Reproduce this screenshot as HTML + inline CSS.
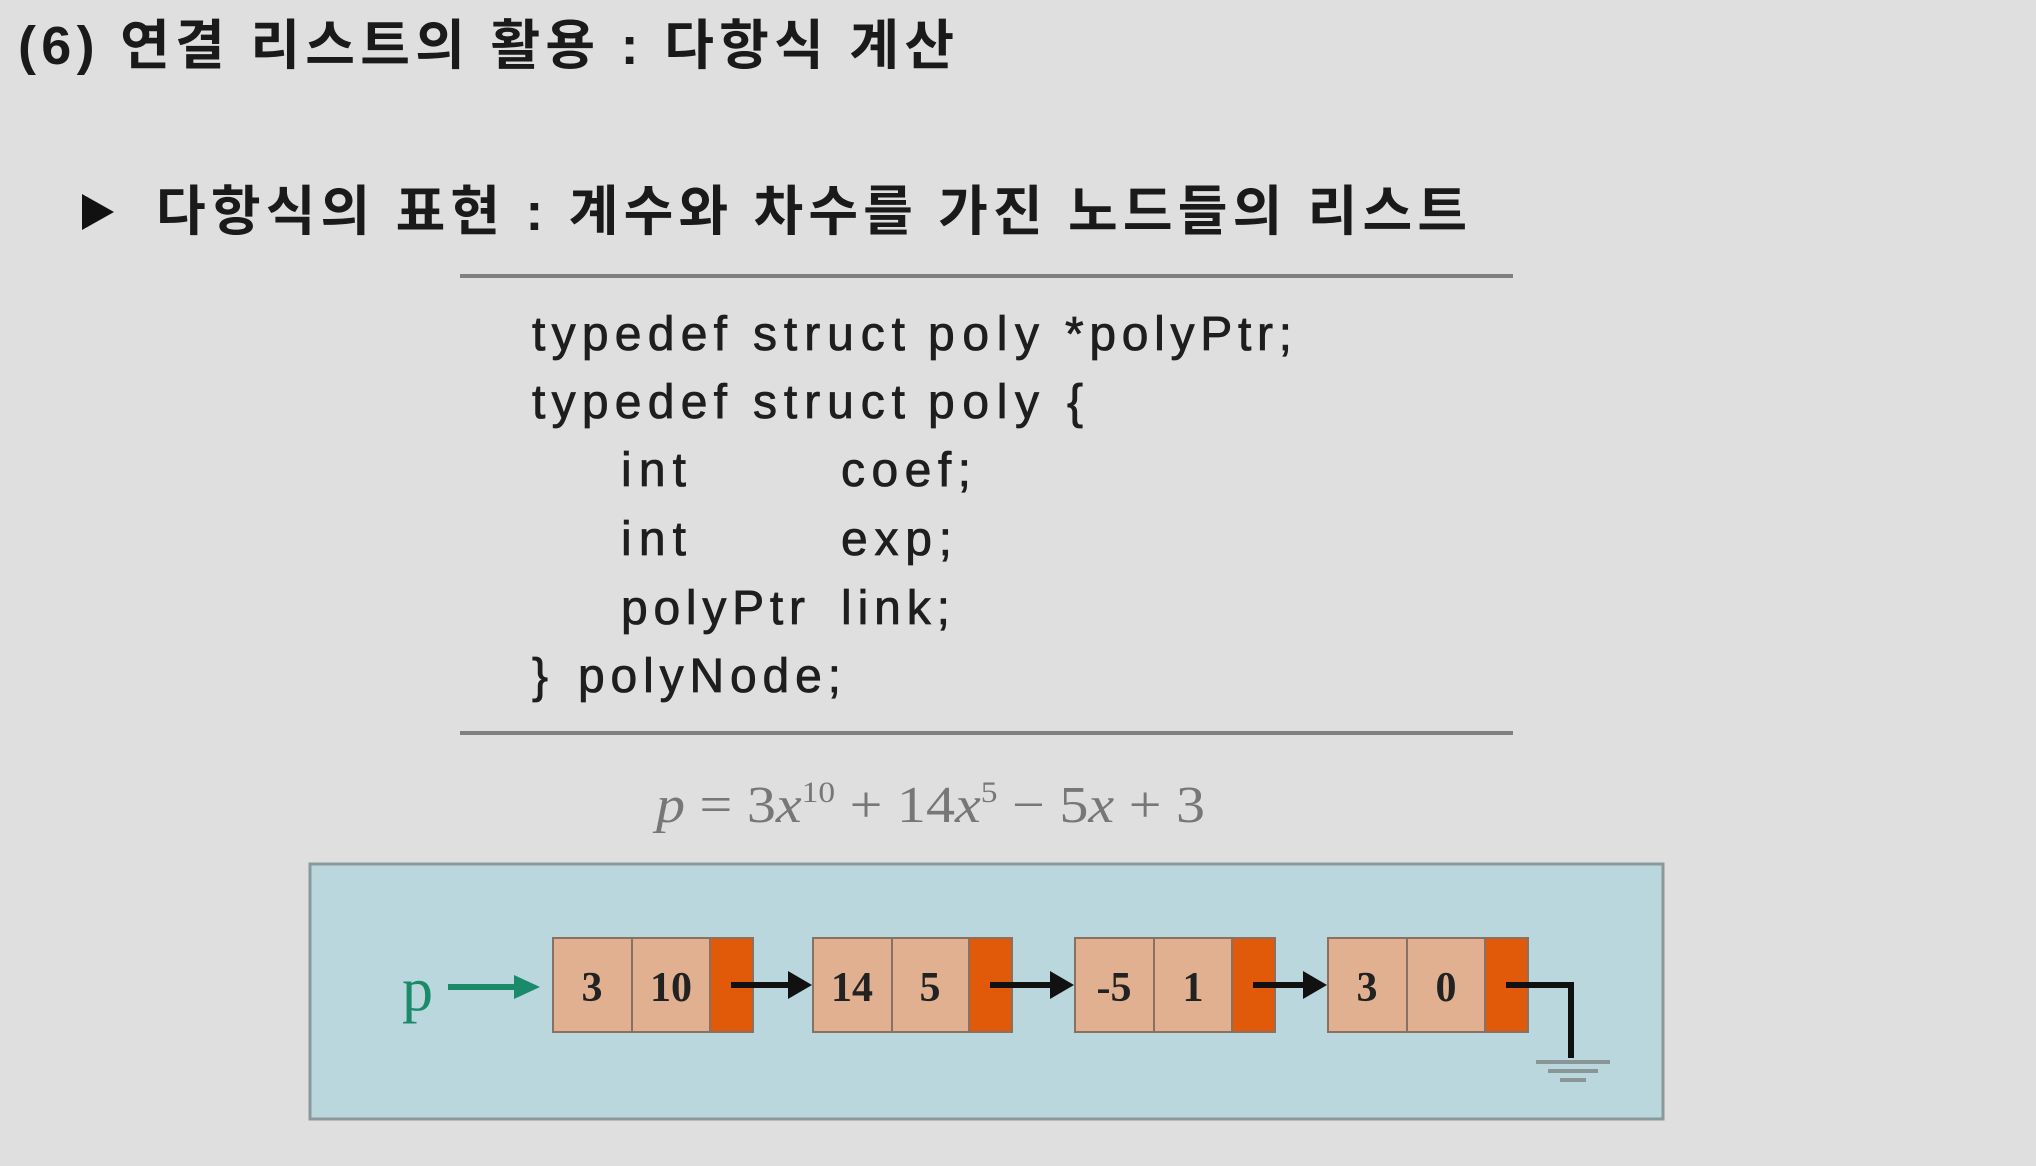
<!DOCTYPE html>
<html><head><meta charset="utf-8"><style>
html,body{margin:0;padding:0;background:#dfdfdf;}
body{width:2036px;height:1166px;overflow:hidden;position:relative;}
svg{position:absolute;left:0;top:0;}
</style></head><body>
<svg width="2036" height="1166" viewBox="0 0 2036 1166">
<rect width="2036" height="1166" fill="#dfdfdf"/>
<g font-family="Liberation Sans, Noto Sans CJK KR, sans-serif" font-weight="bold" fill="#1a1a1a" lengthAdjust="spacingAndGlyphs">
<text x="18" y="64" font-size="54" textLength="936">(6) 연결 리스트의 활용 : 다항식 계산</text>
<text x="156" y="230" font-size="54" textLength="1311">다항식의 표현 : 계수와 차수를 가진 노드들의 리스트</text>
</g>
<polygon points="82,194 82,230 114,212" fill="#111"/>
<line x1="460" y1="276" x2="1513" y2="276" stroke="#808080" stroke-width="4"/>
<line x1="460" y1="733" x2="1513" y2="733" stroke="#808080" stroke-width="4"/>
<g font-family="Liberation Sans, sans-serif" font-size="48" fill="#1e1e1e" stroke="#1e1e1e" stroke-width="0.8" lengthAdjust="spacingAndGlyphs">
<text x="532" y="350" textLength="195">typedef</text>
<text x="753" y="350" textLength="152">struct</text>
<text x="928" y="350" textLength="111">poly</text>
<text x="1065" y="350" textLength="227">*polyPtr;</text>
<text x="532" y="418" textLength="195">typedef</text>
<text x="753" y="418" textLength="152">struct</text>
<text x="928" y="418" textLength="111">poly</text>
<text x="1067" y="418">{</text>
<text x="621" y="486" textLength="65">int</text><text x="841" y="486" textLength="130">coef;</text>
<text x="621" y="555" textLength="65">int</text><text x="841" y="555" textLength="111">exp;</text>
<text x="621" y="624" textLength="184">polyPtr</text><text x="841" y="624" textLength="109">link;</text>
<text x="532" y="692">}</text><text x="578" y="692" textLength="263">polyNode;</text>
</g>
<text x="656" y="822" font-family="Liberation Serif, serif" font-size="52" fill="#777" textLength="549" lengthAdjust="spacingAndGlyphs"><tspan font-style="italic">p</tspan> = 3<tspan font-style="italic">x</tspan><tspan font-size="30" dy="-20">10</tspan><tspan dy="20"> + 14</tspan><tspan font-style="italic">x</tspan><tspan font-size="30" dy="-20">5</tspan><tspan dy="20"> − 5</tspan><tspan font-style="italic">x</tspan> + 3</text>
<rect x="310" y="864" width="1353" height="255" fill="#b9d7dc" stroke="#8a9a9c" stroke-width="3"/>
<text x="402" y="1010" font-family="Liberation Serif, serif" font-size="62" fill="#1a8a6a">p</text>
<line x1="448" y1="987" x2="518" y2="987" stroke="#1a8a6a" stroke-width="6"/>
<polygon points="514,975 540,987 514,999" fill="#1a8a6a"/>
<g font-family="Liberation Serif, serif" font-size="42" font-weight="bold" fill="#222" text-anchor="middle">
<rect x="553" y="938" width="79" height="94" fill="#e0b090" stroke="#8a7060" stroke-width="2"/>
<rect x="632" y="938" width="78" height="94" fill="#e0b090" stroke="#8a7060" stroke-width="2"/>
<rect x="710" y="938" width="43" height="94" fill="#e05a0a" stroke="#8a7060" stroke-width="2"/>
<text x="592" y="1001">3</text><text x="671" y="1001">10</text>
<rect x="813" y="938" width="79" height="94" fill="#e0b090" stroke="#8a7060" stroke-width="2"/>
<rect x="892" y="938" width="77" height="94" fill="#e0b090" stroke="#8a7060" stroke-width="2"/>
<rect x="969" y="938" width="43" height="94" fill="#e05a0a" stroke="#8a7060" stroke-width="2"/>
<text x="852" y="1001">14</text><text x="930" y="1001">5</text>
<rect x="1075" y="938" width="79" height="94" fill="#e0b090" stroke="#8a7060" stroke-width="2"/>
<rect x="1154" y="938" width="78" height="94" fill="#e0b090" stroke="#8a7060" stroke-width="2"/>
<rect x="1232" y="938" width="43" height="94" fill="#e05a0a" stroke="#8a7060" stroke-width="2"/>
<text x="1114" y="1001">-5</text><text x="1193" y="1001">1</text>
<rect x="1328" y="938" width="79" height="94" fill="#e0b090" stroke="#8a7060" stroke-width="2"/>
<rect x="1407" y="938" width="78" height="94" fill="#e0b090" stroke="#8a7060" stroke-width="2"/>
<rect x="1485" y="938" width="43" height="94" fill="#e05a0a" stroke="#8a7060" stroke-width="2"/>
<text x="1367" y="1001">3</text><text x="1446" y="1001">0</text>
</g>
<g stroke="#111" stroke-width="6" fill="#111">
<line x1="731" y1="985" x2="792" y2="985"/><polygon points="788,971 812,985 788,999" stroke="none"/>
<line x1="990" y1="985" x2="1054" y2="985"/><polygon points="1050,971 1074,985 1050,999" stroke="none"/>
<line x1="1253" y1="985" x2="1307" y2="985"/><polygon points="1303,971 1327,985 1303,999" stroke="none"/>
<polyline points="1506,985 1571,985 1571,1058" fill="none"/>
</g>
<g stroke="#8a9598" stroke-width="4">
<line x1="1536" y1="1062" x2="1610" y2="1062"/>
<line x1="1548" y1="1071" x2="1598" y2="1071"/>
<line x1="1560" y1="1080" x2="1586" y2="1080"/>
</g>
</svg>
</body></html>
